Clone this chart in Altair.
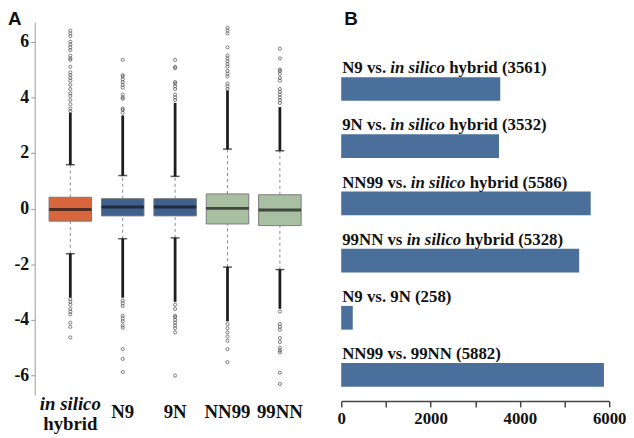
import altair as alt
import pandas as pd

# ---------------- Panel A data ----------------
groups = ["in silico hybrid", "N9", "9N", "NN99", "99NN"]
box_colors = ["#D8653B", "#3F6190", "#3F6190", "#A8BFA1", "#A8BFA1"]
q1 = [-0.45, -0.26, -0.26, -0.55, -0.61]
median = [-0.03, 0.06, 0.06, 0.01, -0.05]
q3 = [0.41, 0.36, 0.36, 0.53, 0.50]
whisk_hi = [1.58, 1.19, 1.16, 2.14, 2.08]
whisk_lo = [-1.62, -1.08, -1.05, -2.10, -2.19]
dense_hi = [3.45, 3.35, 3.80, 4.25, 3.65]   # end of the solid run of outliers
dense_lo = [-3.20, -3.20, -3.35, -4.05, -3.60]

out_insilico = [6.4, 6.3, 6.2, 6.0, 5.9, 5.8, 5.7, 5.5, 5.4, 5.35, 5.1, 4.9, 4.8, 4.7,
                4.6, 4.45, 4.3, 4.15, 4.05, 3.9, 3.75, 3.6, 3.5,
                -3.25, -3.35, -3.45, -3.6, -3.7, -3.8, -4.1, -4.25, -4.63]
out_n9 = [5.35, 4.8, 4.75, 4.65, 4.55, 4.45, 4.35, 4.1, 4.0, 3.95, 3.6, 3.55, 3.45,
          -3.3, -3.4, -3.5, -3.85, -3.95, -4.05, -4.2, -4.28, -5.05, -5.4, -5.87]
out_9n = [5.35, 5.1, 5.05, 4.55, 4.5, 4.4, 4.3, 4.1, 4.0, 3.9,
          -3.45, -3.6, -3.85, -3.9, -4.0, -4.1, -4.2, -4.3, -4.45, -6.0]
out_nn99 = [6.5, 6.4, 6.3, 5.8, 5.5, 5.4, 5.3, 5.2, 5.1, 4.95, 4.85, 4.75, 4.5, 4.4, 4.3,
            -4.15, -4.3, -4.45, -4.6, -4.75, -5.05, -5.52]
out_99nn = [5.75, 5.4, 5.0, 4.95, 4.85, 4.7, 4.6, 4.3, 4.2, 4.1, 4.0, 3.9, 3.8,
            -3.7, -4.15, -4.25, -4.35, -4.65, -4.8, -5.0, -5.1, -5.16, -5.9, -6.3]
outliers = [out_insilico, out_n9, out_9n, out_nn99, out_99nn]

y_ticks = [-6, -4, -2, 0, 2, 4, 6]

# ---------------- Panel B data ----------------
comp_prefix = ["N9 vs. ", "9N vs. ", "NN99 vs. ", "99NN vs ", "N9 vs. 9N", "NN99 vs. 99NN"]
comp_italic = ["in silico", "in silico", "in silico", "in silico", "", ""]
comp_suffix = ["hybrid", "hybrid", "hybrid", "hybrid", "", ""]
deg_counts = [3561, 3532, 5586, 5328, 258, 5882]
x_ticks = [0, 1000, 2000, 3000, 4000, 5000, 6000]

SERIF = "'Liberation Serif', 'Times New Roman', Times, 'DejaVu Serif', serif"
SANS = "'Liberation Sans', Arial, sans-serif"

# ---------------- build tables ----------------
box_df = pd.DataFrame({
    "grp": groups, "col": box_colors, "q1": q1, "med": median, "q3": q3,
    "whi": whisk_hi, "wlo": whisk_lo, "dhi": dense_hi, "dlo": dense_lo,
})
out_df = pd.DataFrame(
    [{"grp": g, "val": v} for g, vals in zip(groups, outliers) for v in vals]
)

H_A = 377
W_A = 284
xA = alt.X("grp:N", sort=groups, axis=None,
           scale=alt.Scale(paddingInner=0, paddingOuter=0.18))
yscaleA = alt.Scale(domain=[-6.7, 6.7], nice=False)

base = alt.Chart(box_df)

whisk_up = base.mark_rule(color="#8a8a8a", strokeDash=[3, 3], strokeWidth=1).encode(
    x=xA,
    y=alt.Y("q3:Q", scale=yscaleA, title=None,
            axis=alt.Axis(values=y_ticks, labelExpr="'' + datum.value", grid=False,
                          domainColor="#9a9a9a", tickColor="#9a9a9a", tickSize=4,
                          labelPadding=2, labelFont=SERIF, labelFontWeight="bold",
                          labelFontSize=18, labelColor="#111")),
    y2="whi:Q")
whisk_dn = base.mark_rule(color="#8a8a8a", strokeDash=[3, 3], strokeWidth=1).encode(
    x=xA, y="wlo:Q", y2="q1:Q")
dense_up = base.mark_rule(color="#1e1e1e", strokeWidth=2.8).encode(x=xA, y="whi:Q", y2="dhi:Q")
dense_dn = base.mark_rule(color="#1e1e1e", strokeWidth=2.8).encode(x=xA, y="dlo:Q", y2="wlo:Q")
cap_up = base.mark_tick(color="#111", size=9, thickness=1.5).encode(x=xA, y="whi:Q")
cap_dn = base.mark_tick(color="#111", size=9, thickness=1.5).encode(x=xA, y="wlo:Q")
points = alt.Chart(out_df).mark_point(shape="circle", size=10, filled=False,
                                      color="#444", strokeWidth=1).encode(x=xA, y="val:Q")
boxes = base.mark_bar(size=43, stroke="#7a7a7a", strokeWidth=1).encode(
    x=xA, y="q1:Q", y2="q3:Q", color=alt.Color("col:N", scale=None))
medians = base.mark_tick(color="#151515", size=43, thickness=3).encode(x=xA, y="med:Q")

lab_df = pd.DataFrame({"grp": groups, "lab": ["", "N9", "9N", "NN99", "99NN"]})
lab_single = alt.Chart(lab_df).mark_text(font=SERIF, fontWeight="bold", fontSize=19,
                                         color="#111", baseline="alphabetic").encode(
    x=xA, y=alt.value(H_A + 23), text="lab:N")
lab_it = alt.Chart(pd.DataFrame({"grp": [groups[0]], "lab": ["in silico"]})).mark_text(
    font=SERIF, fontWeight="bold", fontStyle="italic", fontSize=19, color="#111",
    baseline="alphabetic").encode(x=xA, y=alt.value(H_A + 15), text="lab:N")
lab_hy = alt.Chart(pd.DataFrame({"grp": [groups[0]], "lab": ["hybrid"]})).mark_text(
    font=SERIF, fontWeight="bold", fontSize=19, color="#111",
    baseline="alphabetic").encode(x=xA, y=alt.value(H_A + 35), text="lab:N")
tag_a = alt.Chart(pd.DataFrame({"t": ["A"]})).mark_text(
    font=SANS, fontWeight="bold", fontSize=19, color="#111", align="left",
    baseline="alphabetic").encode(x=alt.value(-27), y=alt.value(3), text="t:N")

panel_a = alt.layer(whisk_up, whisk_dn, dense_up, dense_dn, cap_up, cap_dn, points,
                    boxes, medians, lab_single, lab_it, lab_hy, tag_a).properties(
    width=W_A, height=H_A)

# ---------------- Panel B ----------------
TB = {" ": 250, "(": 333, ")": 333, ".": 250, "N": 722, "b": 556, "d": 556, "h": 556,
      "i": 278, "r": 444, "s": 389, "v": 500, "y": 500}
for dch in "0123456789":
    TB[dch] = 500
TBI = {" ": 250, "i": 278, "n": 556, "s": 389, "l": 278, "c": 444, "o": 500}
FS_B = 17


def tw(s, table):
    return sum(table.get(ch, 500) for ch in s) * FS_B / 1000.0


keys = ["c%d" % i for i in range(len(deg_counts))]
bar_df = pd.DataFrame({"key": keys, "count": deg_counts})

seg_rows = []
for k, pre, ita, suf, c in zip(keys, comp_prefix, comp_italic, comp_suffix, deg_counts):
    x0 = 1.0
    if ita:
        seg_rows.append({"key": k, "seg": pre.strip(), "xpx": x0, "it": 0})
        xi = x0 + tw(pre, TB)
        seg_rows.append({"key": k, "seg": ita, "xpx": xi, "it": 1})
        xs = xi + tw(ita, TBI) + tw(" ", TB)
        seg_rows.append({"key": k, "seg": "%s (%d)" % (suf, c), "xpx": xs, "it": 0})
    else:
        seg_rows.append({"key": k, "seg": "%s (%d)" % (pre, c), "xpx": x0, "it": 0})
seg_df = pd.DataFrame(seg_rows)

W_B = 271
H_B = 383
yB = alt.Y("key:N", sort=keys, axis=None,
           scale=alt.Scale(paddingInner=0.585, paddingOuter=0.6035, align=0.795))

bars = alt.Chart(bar_df).mark_bar(color="#4A6F9A").encode(
    x=alt.X("count:Q", title=None, scale=alt.Scale(domain=[0, 6000], nice=False),
            axis=alt.Axis(values=x_ticks,
                          labelExpr="datum.value % 2000 == 0 ? datum.label : ''",
                          format="d", grid=False, domainColor="#444", domainWidth=1.5,
                          tickColor="#444", tickWidth=1.5, tickSize=6, labelPadding=4,
                          labelFont=SERIF, labelFontWeight="bold", labelFontSize=17,
                          labelColor="#111", labelFlush=False, labelOverlap=False)),
    y=yB)

yBt = alt.Y("key:N", sort=keys, axis=None, bandPosition=0,
            scale=alt.Scale(paddingInner=0.585, paddingOuter=0.6035, align=0.795))
txt_bold = alt.Chart(seg_df[seg_df.it == 0]).mark_text(
    font=SERIF, fontWeight="bold", fontSize=FS_B, color="#111", align="left",
    baseline="alphabetic", dy=-4).encode(
    x=alt.X("xpx:Q", scale=None), y=yBt, text="seg:N")
txt_it = alt.Chart(seg_df[seg_df.it == 1]).mark_text(
    font=SERIF, fontWeight="bold", fontStyle="italic", fontSize=FS_B, color="#111",
    align="left", baseline="alphabetic", dy=-4).encode(
    x=alt.X("xpx:Q", scale=None), y=yBt, text="seg:N")
tag_b = alt.Chart(pd.DataFrame({"t": ["B"]})).mark_text(
    font=SANS, fontWeight="bold", fontSize=19, color="#111", align="left",
    baseline="alphabetic").encode(x=alt.value(3), y=alt.value(3), text="t:N")

panel_b = alt.layer(bars, txt_bold, txt_it, tag_b).properties(width=W_B, height=H_B)

chart = alt.hconcat(panel_a, panel_b, spacing=21).properties(
    padding=0, background="white"
).configure_view(strokeWidth=0)

chart.save("out.html", embed_options={"renderer": "svg", "actions": False})
